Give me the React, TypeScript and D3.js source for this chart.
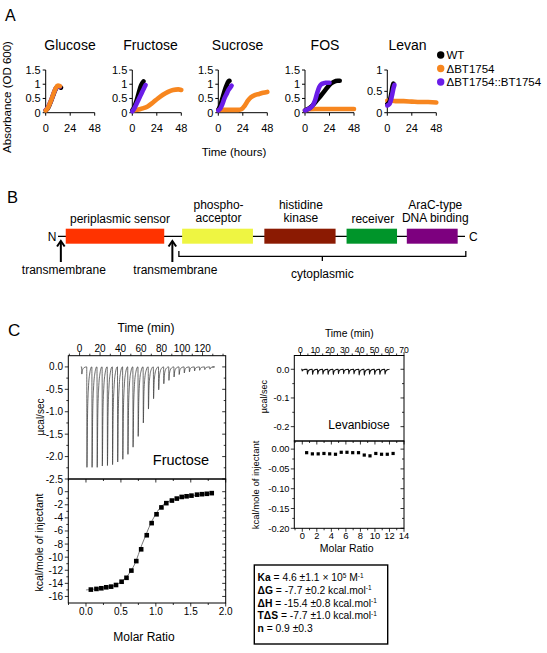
import React from "react";
import * as d3 from "d3";

const FONT = "'Liberation Sans', Arial, Helvetica, sans-serif";

// ================= Panel A data =================
const sugars = ["Glucose", "Fructose", "Sucrose", "FOS", "Levan"];
const strainLabels = ["WT", "ΔBT1754", "ΔBT1754::BT1754"];
const strainColors = ["#000000", "#F7861F", "#6A1DE8"];
const hourTicks = [0, 24, 48];
const odTicks = [0, 0.5, 1, 1.5];
const odTicksLevan = [0, 0.5, 1];
const odMax = [1.5, 1.5, 1.5, 1.5, 1];

type P = [number, number];
const glucoseWT: P[] = [[0, 0.08], [2, 0.15], [4, 0.3], [6, 0.48], [8, 0.68], [10, 0.85], [12, 0.93], [14, 0.9], [15, 0.88]];
const glucoseKO: P[] = [[0, 0.08], [2, 0.16], [4, 0.32], [6, 0.5], [8, 0.7], [10, 0.87], [12, 0.95], [14, 0.93]];
const glucoseComp: P[] = [[0, 0.1], [2, 0.17], [4, 0.33], [6, 0.5], [8, 0.7], [10, 0.86], [12, 0.93], [14, 0.92]];

const fructoseWT: P[] = [[0, 0.08], [2, 0.2], [4, 0.4], [6, 0.65], [8, 0.9], [10, 1.05], [11, 1.1]];
const fructoseKO: P[] = [[0, 0.08], [5, 0.1], [10, 0.15], [15, 0.22], [20, 0.35], [25, 0.5], [30, 0.63], [35, 0.73], [40, 0.8], [45, 0.82], [48, 0.8]];
const fructoseComp: P[] = [[0, 0.05], [2, 0.15], [4, 0.3], [6, 0.45], [8, 0.6], [10, 0.75], [12, 0.9], [13, 0.97]];

const sucroseWT: P[] = [[0, 0.1], [2, 0.25], [4, 0.5], [6, 0.75], [8, 0.95], [10, 1.1], [11, 1.12]];
const sucroseKO: P[] = [[0, 0.1], [10, 0.1], [20, 0.1], [23, 0.13], [26, 0.25], [29, 0.42], [32, 0.54], [36, 0.62], [40, 0.66], [44, 0.7], [48, 0.73]];
const sucroseComp: P[] = [[0, 0.08], [2, 0.15], [4, 0.3], [6, 0.5], [8, 0.65], [10, 0.8], [12, 0.9], [13, 0.95]];

const fosWT: P[] = [[0, 0.08], [4, 0.15], [8, 0.28], [12, 0.45], [16, 0.62], [20, 0.8], [24, 0.98], [28, 1.08], [32, 1.12], [34, 1.12]];
const fosKO: P[] = [[0, 0.08], [4, 0.12], [10, 0.13], [20, 0.13], [30, 0.13], [40, 0.13], [48, 0.13]];
const fosComp: P[] = [[0, 0.08], [4, 0.14], [8, 0.28], [10, 0.45], [12, 0.7], [14, 0.9], [16, 1.0], [18, 1.03], [20, 1.05], [24, 1.05]];

const levanWT: P[] = [[0, 0.2], [2, 0.25], [4, 0.45], [5, 0.6], [6, 0.68]];
const levanKO: P[] = [[0, 0.28], [2, 0.29], [8, 0.27], [16, 0.27], [24, 0.26], [32, 0.25], [40, 0.25], [48, 0.24]];
const levanComp: P[] = [[0, 0.17], [2, 0.2], [3, 0.25], [5, 0.45], [6, 0.57], [7, 0.65]];

const growth: P[][][] = [
  [glucoseWT, glucoseKO, glucoseComp],
  [fructoseWT, fructoseKO, fructoseComp],
  [sucroseWT, sucroseKO, sucroseComp],
  [fosWT, fosKO, fosComp],
  [levanWT, levanKO, levanComp],
];

// ================= Panel B data (schematic units 0-100) =================
const domainLabels = [["periplasmic sensor"], ["phospho-", "acceptor"], ["histidine", "kinase"], ["receiver"], ["AraC-type", "DNA binding"]];
const domainStart = [1.9, 30.5, 50.7, 70.9, 85.7];
const domainEnd = [26.1, 47.9, 68.2, 83.3, 98.2];
const domainColors = ["#FF3300", "#EEF542", "#8B1A02", "#00952A", "#7D007F"];
const tmPositions = [0.7, 28.1];
const cytoRange = [29.7, 100.2];

// ================= Panel C data =================
const fructTimeTicks = [0, 20, 40, 60, 80, 100, 120];
const fructRateTicks = [0, -0.5, -1, -1.5, -2, -2.5];
const fructHeatTicks = [0, -2, -4, -6, -8, -10, -12, -14, -16];
const fructRatioTicks = [0, 0.5, 1, 1.5, 2];
const fructInjTimes = [2, 7, 12, 17, 22, 27, 32, 37, 42, 47, 52, 57, 62, 67, 72, 77, 82, 87, 92, 97, 102, 107, 112, 117, 122, 127];
const fructPeaks = [-0.16, -2.24, -2.24, -2.24, -2.21, -2.2, -2.18, -2.12, -2.06, -1.95, -1.79, -1.55, -1.25, -0.94, -0.71, -0.51, -0.375, -0.3, -0.225, -0.17, -0.135, -0.11, -0.09, -0.075, -0.06, -0.05];
const fructRatio = [0.07, 0.15, 0.22, 0.29, 0.36, 0.43, 0.51, 0.58, 0.65, 0.72, 0.79, 0.87, 0.94, 1.01, 1.08, 1.15, 1.23, 1.3, 1.37, 1.44, 1.51, 1.59, 1.66, 1.73, 1.8];
const fructHeat = [-14.95, -14.85, -14.75, -14.6, -14.5, -14.25, -13.75, -13.15, -12.05, -10.6, -8.8, -6.65, -4.8, -3.45, -2.4, -1.75, -1.35, -1.05, -0.8, -0.7, -0.6, -0.45, -0.38, -0.32, -0.22];
const fructFitRatio = [0.0, 0.1, 0.2, 0.3, 0.4, 0.5, 0.55, 0.6, 0.65, 0.7, 0.75, 0.8, 0.85, 0.9, 0.95, 1.0, 1.05, 1.1, 1.2, 1.3, 1.4, 1.5, 1.6, 1.7, 1.8];
const fructFitHeat = [-15.0, -14.9, -14.8, -14.6, -14.35, -13.8, -13.35, -12.75, -12.0, -11.0, -9.6, -8.1, -6.8, -5.5, -4.35, -3.4, -2.6, -2.0, -1.4, -1.05, -0.8, -0.62, -0.48, -0.37, -0.28];

const levTimeTicks = [0, 10, 20, 30, 40, 50, 60, 70];
const levRateTicks = [0, -0.1, -0.2];
const levHeatTicks = [0, -0.05, -0.1, -0.15, -0.2];
const levRatioTicks = [0, 2, 4, 6, 8, 10, 12, 14];
const levInjTimes = [1, 4.5, 8, 11.5, 15, 18.5, 22, 25.5, 29, 32.5, 36, 39.5, 43, 46.5, 50, 53.5, 57];
const levPeaks = [-0.006, -0.017, -0.018, -0.017, -0.017, -0.018, -0.019, -0.015, -0.015, -0.016, -0.016, -0.02, -0.021, -0.017, -0.018, -0.018, -0.017];
const levRatio = [0.6, 1.39, 2.19, 2.98, 3.77, 4.57, 5.36, 6.15, 6.94, 7.74, 8.53, 9.32, 10.12, 10.91, 11.7, 12.5];
const levHeat = [-0.009, -0.012, -0.012, -0.011, -0.012, -0.013, -0.008, -0.008, -0.009, -0.009, -0.015, -0.017, -0.011, -0.013, -0.013, -0.011];

const itcRows = [
  { b: "Ka", t: " = 4.6 ±1.1 × 10", s: "5", t2: " M", s2: "-1" },
  { b: "ΔG", t: " = -7.7 ±0.2 kcal.mol", s: "-1", t2: "", s2: "" },
  { b: "ΔH", t: " = -15.4 ±0.8 kcal.mol", s: "-1", t2: "", s2: "" },
  { b: "TΔS", t: " = -7.7 ±1.0 kcal.mol", s: "-1", t2: "", s2: "" },
  { b: "n", t: " = 0.9 ±0.3", s: "", t2: "", s2: "" },
];

// ================= layout =================
const A_AXIS_X = [45.7, 132.3, 218.3, 305, 387.3];
const A_TITLE_X = [70, 150.5, 237.5, 325, 407.5];
const A_W = 49;
const A_Y0 = 112.7;
const A_Y1 = 70;

function fmtA(v: number) {
  return v === 0 ? "0" : v === 1 ? "1" : String(v);
}

function GrowthPanel({ i }: { i: number }) {
  const ax = A_AXIS_X[i];
  const x = d3.scaleLinear().domain([0, 48]).range([ax, ax + A_W]);
  const y = d3.scaleLinear().domain([0, odMax[i]]).range([A_Y0, A_Y1]);
  const line = d3.line<P>().x((d) => x(d[0])).y((d) => y(d[1])).curve(d3.curveMonotoneX);
  const ticks = i === 4 ? odTicksLevan : odTicks;
  const order = i === 0 ? [0, 2, 1] : [1, 0, 2];
  return (
    <g>
      <text x={A_TITLE_X[i]} y={50} fontSize={14} textAnchor="middle">{sugars[i]}</text>
      <line x1={ax} x2={ax} y1={y(0)} y2={y(odMax[i])} stroke="#000" strokeWidth={1} />
      <line x1={ax} x2={x(48)} y1={y(0)} y2={y(0)} stroke="#000" strokeWidth={1} />
      {ticks.map((t) => (
        <g key={"y" + t}>
          <line x1={ax - 3} x2={ax} y1={y(t)} y2={y(t)} stroke="#000" />
          <text x={ax - 5} y={y(t)} dy="0.35em" fontSize={11} textAnchor="end">{fmtA(t)}</text>
        </g>
      ))}
      {hourTicks.map((t) => (
        <g key={"x" + t}>
          <line x1={x(t)} x2={x(t)} y1={y(0)} y2={y(0) + 3} stroke="#000" />
          <text x={x(t)} y={131.5} fontSize={11} textAnchor="middle">{t}</text>
        </g>
      ))}
      {order.map((s) => (
        <path key={s} d={line(growth[i][s]) || ""} fill="none" stroke={strainColors[s]} strokeWidth={4.6} strokeLinecap="round" strokeLinejoin="round" />
      ))}
    </g>
  );
}

function peakPoints(times: number[], depths: number[], width: number, tStart: number, tEnd: number): P[] {
  const pts: P[] = [[tStart, 0]];
  times.forEach((t, k) => {
    const d = depths[k];
    pts.push([t, 0], [t + 0.04 * width, d], [t + 0.15 * width, d * 0.5], [t + 0.32 * width, d * 0.22], [t + 0.6 * width, d * 0.06], [t + 0.95 * width, 0]);
  });
  pts.push([tEnd, 0]);
  return pts;
}

function Ticks({ vals, pos, fixed, dir, len, vertical }: { vals: number[]; pos: (v: number) => number; fixed: number; dir: number; len: number; vertical: boolean }) {
  return (
    <g>
      {vals.map((v, k) =>
        vertical ? (
          <line key={k} x1={fixed} x2={fixed + dir * len} y1={pos(v)} y2={pos(v)} stroke="#000" strokeWidth={0.8} />
        ) : (
          <line key={k} x1={pos(v)} x2={pos(v)} y1={fixed} y2={fixed + dir * len} stroke="#000" strokeWidth={0.8} />
        )
      )}
    </g>
  );
}

function mids(v: number[]) {
  const out: number[] = [];
  for (let k = 0; k < v.length - 1; k++) out.push((v[k] + v[k + 1]) / 2);
  return out;
}

function ITCPanel(props: {
  L: number; R: number; T: number; M: number; B: number;
  xT: d3.ScaleLinear<number, number>; yT: d3.ScaleLinear<number, number>;
  xB: d3.ScaleLinear<number, number>; yB: d3.ScaleLinear<number, number>;
  timeTicks: number[]; rateTicks: number[]; heatTicks: number[]; ratioTicks: number[];
  rateFmt: (v: number) => string; heatFmt: (v: number) => string; ratioFmt: (v: number) => string;
  tickFont: number; topTickFont: number;
  tickLabelTopY: number; tickLabelBotY: number; leftLabelX: number;
  raw: P[]; rawStroke: string; rawWidth: number;
  ratio: number[]; heat: number[]; fit: P[] | null; sq: number;
  extraTimeMinor: number[]; extraRatioMinor: number[];
}) {
  const p = props;
  const rawLine = d3.line<P>().x((d) => p.xT(d[0])).y((d) => p.yT(d[1])).curve(d3.curveMonotoneX);
  const fitLine = d3.line<P>().x((d) => p.xB(d[0])).y((d) => p.yB(d[1])).curve(d3.curveCatmullRom);
  const timeMinor = mids(p.timeTicks).concat(p.extraTimeMinor);
  const rateMinor = mids(p.rateTicks);
  const heatMinor = mids(p.heatTicks);
  const ratioMinor = mids(p.ratioTicks).concat(p.extraRatioMinor);
  const inT = (v: number) => v >= p.xT.domain()[0] && v <= p.xT.domain()[1];
  const inB = (v: number) => v >= p.xB.domain()[0] && v <= p.xB.domain()[1];
  return (
    <g>
      {/* upper panel */}
      <path d={rawLine(p.raw) || ""} fill="none" stroke={p.rawStroke} strokeWidth={p.rawWidth} />
      <rect x={p.L} y={p.T} width={p.R - p.L} height={p.M - p.T} fill="none" stroke="#000" strokeWidth={1} />
      <Ticks vals={p.timeTicks.filter(inT)} pos={p.xT} fixed={p.T} dir={-1} len={3.5} vertical={false} />
      <Ticks vals={timeMinor.filter(inT)} pos={p.xT} fixed={p.T} dir={-1} len={2} vertical={false} />
      <Ticks vals={p.rateTicks} pos={p.yT} fixed={p.L} dir={-1} len={3.5} vertical={true} />
      <Ticks vals={rateMinor} pos={p.yT} fixed={p.L} dir={-1} len={2} vertical={true} />
      <Ticks vals={p.rateTicks} pos={p.yT} fixed={p.R} dir={-1} len={3.5} vertical={true} />
      <Ticks vals={rateMinor} pos={p.yT} fixed={p.R} dir={-1} len={2} vertical={true} />
      {p.timeTicks.map((t) => (
        <text key={"tt" + t} x={p.xT(t)} y={p.tickLabelTopY} fontSize={p.topTickFont} textAnchor="middle">{t}</text>
      ))}
      {p.rateTicks.map((t) => (
        <text key={"rt" + t} x={p.leftLabelX} y={p.yT(t)} dy="0.35em" fontSize={p.tickFont} textAnchor="end">{p.rateFmt(t)}</text>
      ))}
      {/* lower panel */}
      <rect x={p.L} y={p.M} width={p.R - p.L} height={p.B - p.M} fill="none" stroke="#000" strokeWidth={1} />
      <Ticks vals={p.ratioTicks.filter(inB)} pos={p.xB} fixed={p.B} dir={1} len={3.5} vertical={false} />
      <Ticks vals={ratioMinor.filter(inB)} pos={p.xB} fixed={p.B} dir={1} len={2} vertical={false} />
      <Ticks vals={p.ratioTicks.filter(inB)} pos={p.xB} fixed={p.M} dir={1} len={3.5} vertical={false} />
      <Ticks vals={ratioMinor.filter(inB)} pos={p.xB} fixed={p.M} dir={1} len={2} vertical={false} />
      <Ticks vals={p.heatTicks} pos={p.yB} fixed={p.L} dir={-1} len={3.5} vertical={true} />
      <Ticks vals={heatMinor} pos={p.yB} fixed={p.L} dir={-1} len={2} vertical={true} />
      <Ticks vals={p.heatTicks} pos={p.yB} fixed={p.R} dir={-1} len={3.5} vertical={true} />
      <Ticks vals={heatMinor} pos={p.yB} fixed={p.R} dir={-1} len={2} vertical={true} />
      {p.ratioTicks.map((t) => (
        <text key={"xt" + t} x={p.xB(t)} y={p.tickLabelBotY} fontSize={p.tickFont} textAnchor="middle">{p.ratioFmt(t)}</text>
      ))}
      {p.heatTicks.map((t) => (
        <text key={"ht" + t} x={p.leftLabelX} y={p.yB(t)} dy="0.35em" fontSize={p.tickFont} textAnchor="end">{p.heatFmt(t)}</text>
      ))}
      {p.fit && <path d={fitLine(p.fit) || ""} fill="none" stroke="#555" strokeWidth={0.8} />}
      {p.ratio.map((r, k) => (
        <rect key={"sq" + k} x={p.xB(r) - p.sq / 2} y={p.yB(p.heat[k]) - p.sq / 2} width={p.sq} height={p.sq} fill="#000" />
      ))}
    </g>
  );
}

export default function App() {
  // Panel B scale
  const sb = d3.scaleLinear().domain([0, 100]).range([58, 465]);
  const BY0 = 228.7, BY1 = 243.7, BMID = 236.3;

  // Panel C scales
  const fxT = d3.scaleLinear().domain([-11, 142.6]).range([68.3, 225.7]);
  const fyT = d3.scaleLinear().domain([-2.5, 0.25]).range([479, 355.7]);
  const fxB = d3.scaleLinear().domain([-0.253, 2.0]).range([68.3, 225.7]);
  const fyB = d3.scaleLinear().domain([-17, 1.94]).range([603, 479]);

  const lxT = d3.scaleLinear().domain([-4.2, 70]).range([294.3, 404]);
  const lyT = d3.scaleLinear().domain([-0.25, 0.048]).range([441, 355.5]);
  const lxB = d3.scaleLinear().domain([-1.1, 14]).range([294.3, 404]);
  const lyB = d3.scaleLinear().domain([-0.2, 0.0205]).range([528.3, 441]);

  const fructRaw = peakPoints(fructInjTimes, fructPeaks, 5, 1.2, 129.5);
  const levRaw = peakPoints(levInjTimes, levPeaks, 3.4, 0.5, 60);
  const fructFit: P[] = fructFitRatio.map((r, k) => [r, fructFitHeat[k]]);

  return (
    <svg width={547} height={653} style={{ position: "absolute", left: 0, top: 0, background: "#fff" }} fontFamily={FONT}>
      <rect x={0} y={0} width={547} height={653} fill="#fff" />
      {/* ===== Panel A ===== */}
      <text x={5} y={20.7} fontSize={16}>A</text>
      <text transform="translate(10.5,97) rotate(-90)" fontSize={11.5} textAnchor="middle">Absorbance (OD 600)</text>
      {sugars.map((_, i) => <GrowthPanel key={i} i={i} />)}
      <text x={234} y={156} fontSize={11.5} textAnchor="middle">Time (hours)</text>
      {strainLabels.map((s, k) => (
        <g key={s}>
          <circle cx={440.7} cy={55 + k * 13.5} r={3.7} fill={strainColors[k]} />
          <text x={446.5} y={55 + k * 13.5 + 4} fontSize={11.5}>{s}</text>
        </g>
      ))}

      {/* ===== Panel B ===== */}
      <text x={7} y={202.7} fontSize={16.5}>B</text>
      <line x1={sb(0)} x2={sb(100)} y1={BMID} y2={BMID} stroke="#000" strokeWidth={1.2} />
      {domainStart.map((s, k) => (
        <rect key={k} x={sb(s)} y={BY0} width={sb(domainEnd[k]) - sb(s)} height={BY1 - BY0} fill={domainColors[k]} />
      ))}
      {domainLabels.map((lines, k) => {
        const cx = (sb(domainStart[k]) + sb(domainEnd[k])) / 2 + (k === 0 ? 5 : k === 4 ? 3 : 1);
        return lines.length === 1 ? (
          <text key={k} x={cx} y={223.3} fontSize={12} textAnchor="middle">{lines[0]}</text>
        ) : (
          <g key={k}>
            <text x={cx} y={208.6} fontSize={12} textAnchor="middle">{lines[0]}</text>
            <text x={cx} y={222.3} fontSize={12} textAnchor="middle">{lines[1]}</text>
          </g>
        );
      })}
      <text x={56.5} y={240.8} fontSize={12} textAnchor="end">N</text>
      <text x={469} y={240.8} fontSize={12}>C</text>
      {tmPositions.map((t, k) => (
        <g key={"tm" + k}>
          <line x1={sb(t)} x2={sb(t)} y1={262} y2={241.5} stroke="#000" strokeWidth={2} />
          <polyline points={`${sb(t) - 3.8},${246.5} ${sb(t)},${241} ${sb(t) + 3.8},${246.5}`} fill="none" stroke="#000" strokeWidth={2} />
          <text x={sb(t) + 3} y={274} fontSize={12} textAnchor="middle">transmembrane</text>
        </g>
      ))}
      <path d={`M${sb(cytoRange[0])},251 V256.3 H${sb(cytoRange[1])} V251`} fill="none" stroke="#000" strokeWidth={1.3} />
      <line x1={(sb(cytoRange[0]) + sb(cytoRange[1])) / 2} x2={(sb(cytoRange[0]) + sb(cytoRange[1])) / 2} y1={256.3} y2={261} stroke="#000" strokeWidth={1.3} />
      <text x={(sb(cytoRange[0]) + sb(cytoRange[1])) / 2} y={277.5} fontSize={12} textAnchor="middle">cytoplasmic</text>

      {/* ===== Panel C ===== */}
      <text x={8} y={335.7} fontSize={17}>C</text>
      <text x={146} y={332} fontSize={12} textAnchor="middle">Time (min)</text>
      <ITCPanel
        L={68.3} R={225.7} T={355.7} M={479} B={603}
        xT={fxT} yT={fyT} xB={fxB} yB={fyB}
        timeTicks={fructTimeTicks} rateTicks={fructRateTicks} heatTicks={fructHeatTicks} ratioTicks={fructRatioTicks}
        rateFmt={(v) => d3.format(".1f")(v).replace("−", "-")}
        heatFmt={(v) => String(v)}
        ratioFmt={(v) => d3.format(".1f")(v)}
        tickFont={10} topTickFont={10}
        tickLabelTopY={351.8} tickLabelBotY={615} leftLabelX={63}
        raw={fructRaw} rawStroke="#3a3a3a" rawWidth={0.75}
        ratio={fructRatio} heat={fructHeat} fit={fructFit} sq={4.6}
        extraTimeMinor={[-10, 130, 140]} extraRatioMinor={[-0.25]}
      />
      <text x={181} y={465} fontSize={14.5} textAnchor="middle">Fructose</text>
      <text transform="translate(40,417) rotate(-90)" fontSize={10} textAnchor="middle" dy="0.35em">µcal/sec</text>
      <text transform="translate(39.5,542.5) rotate(-90)" fontSize={10.5} textAnchor="middle" dy="0.35em">kcal/mole of injectant</text>
      <text x={144} y={641} fontSize={12} textAnchor="middle">Molar Ratio</text>

      <text x={349.3} y={337} fontSize={10.3} textAnchor="middle">Time (min)</text>
      <ITCPanel
        L={294.3} R={404} T={355.5} M={441} B={528.3}
        xT={lxT} yT={lyT} xB={lxB} yB={lyB}
        timeTicks={levTimeTicks} rateTicks={levRateTicks} heatTicks={levHeatTicks} ratioTicks={levRatioTicks}
        rateFmt={(v) => d3.format(".1f")(v).replace("−", "-")}
        heatFmt={(v) => d3.format(".2f")(v).replace("−", "-")}
        ratioFmt={(v) => String(v)}
        tickFont={9.3} topTickFont={8.6}
        tickLabelTopY={352.6} tickLabelBotY={539} leftLabelX={289.5}
        raw={levRaw} rawStroke="#111" rawWidth={1.1}
        ratio={levRatio} heat={levHeat} fit={null} sq={3.2}
        extraTimeMinor={[]} extraRatioMinor={[-1]}
      />
      <text x={359} y={429} fontSize={12} textAnchor="middle">Levanbiose</text>
      <text transform="translate(263.5,396.7) rotate(-90)" fontSize={9} textAnchor="middle" dy="0.35em">µcal/sec</text>
      <text transform="translate(255.5,485) rotate(-90)" fontSize={9.5} textAnchor="middle" dy="0.35em">kcal/mole of injectant</text>
      <text x={346.7} y={552} fontSize={10.5} textAnchor="middle">Molar Ratio</text>

      {/* parameter box */}
      <rect x={254.3} y={565} width={133.4} height={79} fill="#fff" stroke="#000" strokeWidth={1.4} />
      {itcRows.map((r, k) => (
        <text key={k} x={257.5} y={581 + k * 12.75} fontSize={10.3}>
          <tspan fontWeight="bold">{r.b}</tspan>
          <tspan>{r.t}</tspan>
          {r.s && <tspan dy={-3.5} fontSize={6.5}>{r.s}</tspan>}
          {r.t2 && <tspan dy={3.5}>{r.t2}</tspan>}
          {r.s2 && <tspan dy={-3.5} fontSize={6.5}>{r.s2}</tspan>}
        </text>
      ))}
    </svg>
  );
}
